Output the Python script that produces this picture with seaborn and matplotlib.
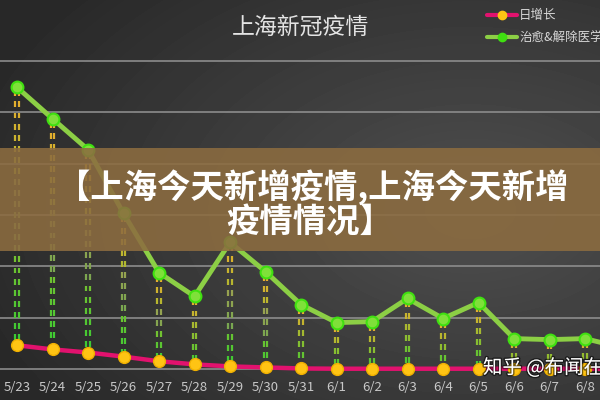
import numpy as np
import pandas as pd
import matplotlib
matplotlib.use("Agg")
import matplotlib.pyplot as plt
import seaborn as sns
from matplotlib.collections import LineCollection
import matplotlib.patheffects as pe

# ---- data ----
dates = ["5/23", "5/24", "5/25", "5/26", "5/27", "5/28", "5/29", "5/30", "5/31",
         "6/1", "6/2", "6/3", "6/4", "6/5", "6/6", "6/7", "6/8", "6/9"]
daily_new = [470, 390, 330, 250, 160, 100, 60, 40, 20,
             15, 15, 15, 15, 15, 15, 15, 15, 15]
recovered = [5480, 4870, 4270, 3030, 1880, 1420, 2470, 1900, 1260,
             910, 930, 1380, 990, 1300, 600, 580, 600, 430]
title = "上海新冠疫情"
legend_labels = ["日增长", "治愈&解除医学观察"]
banner_lines = ["【上海今天新增疫情,上海今天新增", "疫情情况】"]
watermark = "知乎 @布闻在线"

sns.set_theme(style="dark")
plt.rcParams['font.family'] = ['Noto Sans CJK SC', 'DejaVu Sans']

fig = plt.figure(figsize=(6, 4), dpi=100)

# background gradient
bg = fig.add_axes([0, 0, 1, 1], zorder=-10)
yy, xx = np.mgrid[0:400, 0:600]
d = np.sqrt(((xx - 470) / 520.0) ** 2 + ((yy - 210) / 330.0) ** 2)
lum = 0.31 - 0.15 * np.clip(d, 0, 1)
bg.imshow(lum, cmap="gray", vmin=0, vmax=1, aspect="auto", extent=[0, 600, 400, 0])
bg.set_axis_off()

df = pd.DataFrame({"idx": np.arange(len(dates)), "date": dates,
                   "new": daily_new, "rec": recovered})

ax = fig.add_axes([0, 20 / 400, 1, 380 / 400])
ax.set_facecolor("none")
for s in ax.spines.values():
    s.set_visible(False)

# grid lines
for g in range(0, 7000, 1000):
    ax.axhline(g, color="#8e8e8e", lw=1.3, alpha=0.9, zorder=1)

# drop lines (double dashed, orange→green gradient)
orange = np.array([0.93, 0.68, 0.18])
green = np.array([0.20, 0.80, 0.20])
dash_len, dash_step = 115, 215
for i, (top, bot) in enumerate(zip(df["rec"], df["new"])):
    segs, cols = [], []
    y = top - 60
    while y - dash_len > bot + 20:
        t = (top - y) / max(top - bot, 1)
        c = orange * (1 - t) + green * t
        if 0.35 < t < 0.65 and top - bot > 1500:
            c = c * 0.6 + np.array([0.5, 0.5, 0.5]) * 0.4
        for off in (-0.045, 0.045):
            segs.append([(i + off, y), (i + off, y - dash_len)])
            cols.append(c)
        y -= dash_step
    ax.add_collection(LineCollection(segs, colors=cols, linewidths=1.6, zorder=2))

# lines
sns.lineplot(data=df, x="idx", y="rec", ax=ax, color="#8ccf45", lw=3.5, zorder=4,
             marker="o", markersize=8.5, markerfacecolor="#7fe03a",
             markeredgecolor="#3fe010", markeredgewidth=1.5, clip_on=False)
sns.lineplot(data=df, x="idx", y="new", ax=ax, color="#e2126e", lw=3.2, zorder=4,
             marker="o", markersize=8.5, markerfacecolor="#ffc414",
             markeredgecolor="#f0b000", markeredgewidth=1, clip_on=False)

ax.set_xticks(df["idx"])
ax.set_xticklabels(dates, color="#c8c8c8", fontsize=9.5)
ax.set_xlim(-0.479, 16.42)
ax.set_ylim(-204, 7175)
ax.tick_params(axis="x", length=0, pad=1)
ax.set_yticks([])
ax.set_xlabel("")
ax.set_ylabel("")
ax.grid(False)

# title
fig.text(0.5, 1 - 27 / 400, title, ha="center", va="center", color="#e4e4e4", fontsize=16.5)

# legend
for k, (lab, lc, mc) in enumerate(zip(legend_labels, ["#e2126e", "#8ccf45"], ["#ffc414", "#3fe010"])):
    yfig = 1 - (15 + 22 * k) / 400
    fig.add_artist(plt.Line2D([487 / 600, 517 / 600], [yfig, yfig], color=lc, lw=3,
                              transform=fig.transFigure))
    fig.add_artist(plt.Line2D([502 / 600], [yfig], color=mc, marker="o", markersize=6,
                              lw=0, transform=fig.transFigure))
    fig.text(519 / 600, yfig, lab, ha="left", va="center", color="#d8d8d8", fontsize=9)

# banner
fig.add_artist(plt.Rectangle((0, 1 - 251 / 400), 1, 103 / 400, transform=fig.transFigure,
                             facecolor="#8c6c40", alpha=0.88, edgecolor="none", zorder=5))
fig.text(313 / 600, 1 - 187 / 400, banner_lines[0], ha="center", va="center",
         color="white", fontsize=24, fontweight="bold", zorder=6)
fig.text(310 / 600, 1 - 223 / 400, banner_lines[1], ha="center", va="center",
         color="white", fontsize=24, fontweight="bold", zorder=6)

# watermark
fig.text(483 / 600, 1 - 368 / 400, watermark, ha="left", va="center", color="white",
         fontsize=14, zorder=6,
         path_effects=[pe.withStroke(linewidth=2, foreground="#00000088")])

fig.savefig("out.png", dpi=100)
